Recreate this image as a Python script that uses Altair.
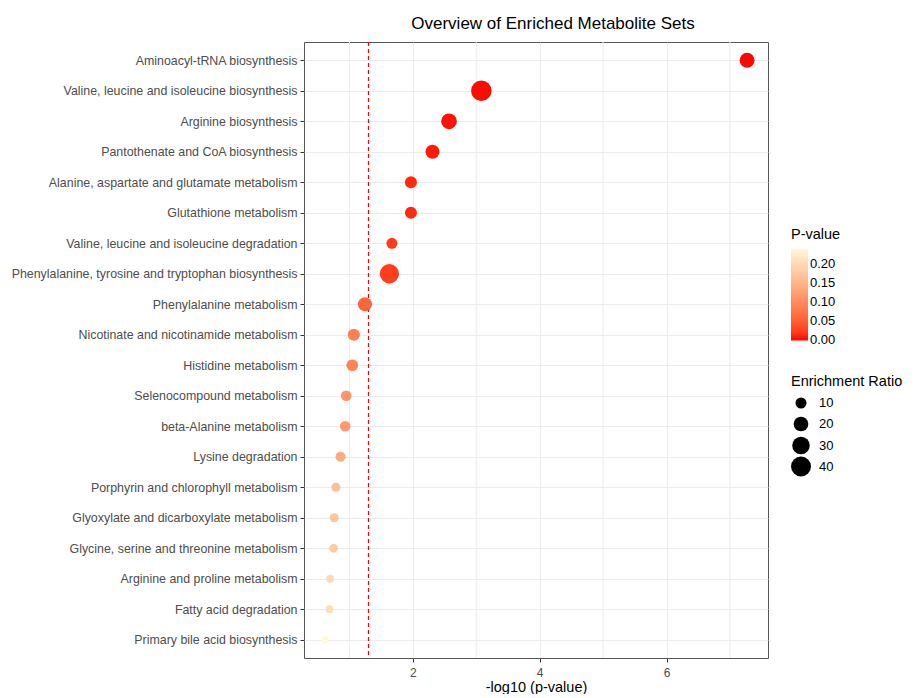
import altair as alt
import pandas as pd

pathways = [
    "Aminoacyl-tRNA biosynthesis",
    "Valine, leucine and isoleucine biosynthesis",
    "Arginine biosynthesis",
    "Pantothenate and CoA biosynthesis",
    "Alanine, aspartate and glutamate metabolism",
    "Glutathione metabolism",
    "Valine, leucine and isoleucine degradation",
    "Phenylalanine, tyrosine and tryptophan biosynthesis",
    "Phenylalanine metabolism",
    "Nicotinate and nicotinamide metabolism",
    "Histidine metabolism",
    "Selenocompound metabolism",
    "beta-Alanine metabolism",
    "Lysine degradation",
    "Porphyrin and chlorophyll metabolism",
    "Glyoxylate and dicarboxylate metabolism",
    "Glycine, serine and threonine metabolism",
    "Arginine and proline metabolism",
    "Fatty acid degradation",
    "Primary bile acid biosynthesis",
]
neg_log10_p = [7.27, 3.08, 2.57, 2.31, 1.97, 1.97, 1.67, 1.63, 1.245, 1.07,
               1.045, 0.95, 0.934, 0.86, 0.786, 0.76, 0.75, 0.696, 0.687, 0.617]
enrichment_ratio = [21, 42, 23.5, 18, 12.5, 12.5, 10, 37, 18, 13,
                    11.7, 9.3, 9.3, 7.7, 5.7, 5.7, 5.1, 3.9, 3.4, 2.7]
x_ticks = [2, 4, 6]
minor_grid = [1, 3, 5, 7]
threshold = [1.30103]
p_ticks = [0.0, 0.05, 0.10, 0.15, 0.20]
size_ticks = [10, 20, 30, 40]

df = pd.DataFrame({"pathway": pathways, "neglogp": neg_log10_p, "er": enrichment_ratio})
p_max = max(10 ** (-v) for v in neg_log10_p)

FONT = "Liberation Sans"
x_scale = alt.Scale(domain=[0.284, 7.60], nice=False, zero=False)
x_axis = alt.Axis(values=x_ticks, title="-log10 (p-value)", grid=True,
                  labelFontSize=12, labelPadding=5, titlePadding=2)

minor = alt.Chart(pd.DataFrame({"v": minor_grid})).mark_rule(strokeWidth=1).encode(
    x=alt.X("v:Q", scale=x_scale, axis=x_axis),
    stroke=alt.value("#EBEBEB"),
    opacity=alt.value(1),
)

points = alt.Chart(df).transform_calculate(
    p="pow(10, -datum.neglogp)"
).mark_circle(opacity=1).encode(
    x=alt.X("neglogp:Q", scale=x_scale, axis=x_axis),
    y=alt.Y("pathway:N", sort=pathways, title=None,
            scale=alt.Scale(type="point", padding=0.6),
            axis=alt.Axis(grid=True, labelLimit=400, labelFontSize=12.4)),
    color=alt.Color("p:Q",
                    scale=alt.Scale(domain=[-0.0008, p_max], range=["#FF0000", "#FFF8DC"],
                                    interpolate="lab", nice=False, zero=False),
                    legend=alt.Legend(title="P-value", values=p_ticks, format=".2f",
                                      orient="none", legendX=487, legendY=186,
                                      gradientLength=92, gradientThickness=17,
                                      direction="vertical", labelOverlap=False,
                                      labelBaseline="middle", titlePadding=6)),
    size=alt.Size("er:Q",
                  scale=alt.Scale(domain=[0, 45], range=[28, 446.5], zero=False, nice=False),
                  legend=alt.Legend(title="Enrichment Ratio", values=size_ticks,
                                    orient="none", legendX=487, legendY=333,
                                    symbolFillColor="black", symbolStrokeWidth=0,
                                    symbolType="circle", symbolOpacity=1,
                                    gridAlign="all", rowPadding=-1, titlePadding=7)),
)

vline = alt.Chart(pd.DataFrame({"t": threshold})).mark_rule(
    strokeDash=[4, 3], strokeWidth=1.2
).encode(
    x=alt.X("t:Q", scale=x_scale, axis=x_axis),
    stroke=alt.value("#FF0000"),
    opacity=alt.value(1),
)

chart = alt.layer(minor, vline, points).properties(
    width=464, height=616,
    title=alt.TitleParams("Overview of Enriched Metabolite Sets", fontSize=17,
                          fontWeight="normal", font=FONT, color="black",
                          anchor="middle", dx=17, offset=8),
    padding={"top": 7, "left": 3, "right": 0, "bottom": 0},
).configure_view(
    stroke="#555555", strokeWidth=1
).configure_axis(
    domain=False, tickColor="#333333", tickSize=4, labelColor="#4D4D4D",
    labelFontSize=12, labelFont=FONT, labelPadding=3,
    titleFont=FONT, titleFontSize=14.5, titleFontWeight="normal", titleColor="black",
    gridColor="#EBEBEB", gridWidth=1, titlePadding=4,
).configure_legend(
    titleFont=FONT, titleFontSize=14.5, titleFontWeight="normal", titleColor="black",
    labelFont=FONT, labelFontSize=13, labelColor="black", padding=0,
    labelOffset=8,
)

chart.save("out.html", embed_options={"renderer": "svg", "actions": False})
